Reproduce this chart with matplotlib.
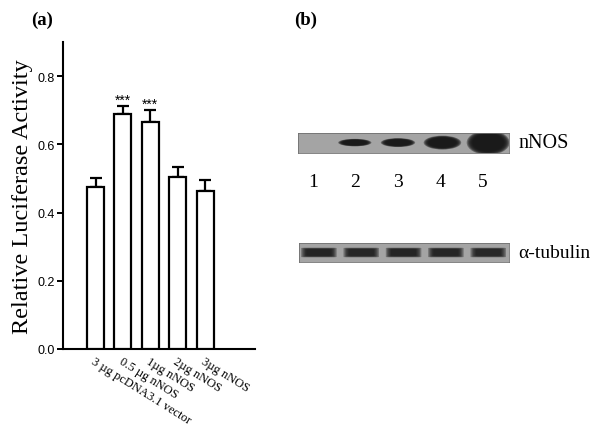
import numpy as np
import matplotlib
matplotlib.use('Agg')
import matplotlib.pyplot as plt
from matplotlib.patches import Ellipse, FancyBboxPatch

# ── Data ──────────────────────────────────────────────────────────────────────
groups    = ['3 µg pcDNA3.1 vector', '0.5 µg nNOS', '1µg nNOS',
             '2µg nNOS', '3µg nNOS']
activity  = [0.475, 0.689, 0.665, 0.505, 0.462]
sem       = [0.026, 0.024, 0.035, 0.030, 0.032]
signif    = ['', '***', '***', '', '']

lanes        = [1, 2, 3, 4, 5]
lane_labels  = ['1', '2', '3', '4', '5']
nnos_signal  = [0.0, 0.55, 0.6, 0.75, 1.0]     # relative band strength
tub_signal   = [0.85, 0.82, 0.84, 0.83, 0.80]

SERIF = ['Liberation Serif', 'DejaVu Serif']
SANS  = ['Liberation Sans', 'DejaVu Sans']

W, H = 598, 431
fig = plt.figure(figsize=(W / 100, H / 100), dpi=100)
fig.patch.set_facecolor('white')

def fbox(x0, y0, x1, y1):
    # pixel box (top-left origin) -> figure fraction rect
    return [x0 / W, 1 - y1 / H, (x1 - x0) / W, (y1 - y0) / H]

# ── Panel (a): bar chart ──────────────────────────────────────────────────────
ax = fig.add_axes(fbox(63, 43, 255, 350))
x = np.arange(len(groups))
ax.bar(x, activity, width=0.62, color='white', edgecolor='black',
       linewidth=1.6, zorder=3)
ax.errorbar(x, activity, yerr=[np.zeros(len(sem)), sem], fmt='none',
            ecolor='black', elinewidth=1.6, capsize=4, capthick=1.6, zorder=2)
for xi, yi, ei, s in zip(x, activity, sem, signif):
    if s:
        ax.text(xi, yi + ei - 0.002, s, ha='center', va='bottom',
                fontsize=10, family=SANS)

ax.set_xlim(-1.19, 5.82)
ax.set_ylim(0, 0.9)
ax.set_yticks([0.0, 0.2, 0.4, 0.6, 0.8])
ax.set_yticklabels(['0.0', '0.2', '0.4', '0.6', '0.8'], family=SANS, fontsize=9)
ax.set_xticks(x)
ax.set_xticklabels(groups, family=SERIF, fontsize=9, rotation=-32,
                   ha='left', va='top', rotation_mode='anchor')
ax.tick_params(axis='x', length=0, pad=4)
ax.tick_params(axis='y', length=4, width=1.4, pad=2)
ax.spines['top'].set_visible(False)
ax.spines['right'].set_visible(False)
ax.spines['left'].set_linewidth(1.5)
ax.spines['bottom'].set_linewidth(1.5)
ax.set_ylabel('Relative Luciferase Activity', family=SERIF, fontsize=17.5,
              labelpad=3)

fig.text(42 / W, 1 - 20 / H, '(a)', family=SERIF, fontsize=13.5,
         fontweight='bold', ha='center', va='center')
fig.text(306 / W, 1 - 20 / H, '(b)', family=SERIF, fontsize=13.5,
         fontweight='bold', ha='center', va='center')

# ── Panel (b): western blot strips ────────────────────────────────────────────
STRIP_BG = '#a4a4a4'
BAND_COL = '#161616'

def blot_axes(box):
    bx = fig.add_axes(fbox(*box))
    bx.set_xlim(0.53, 5.49)
    bx.set_ylim(0, 1)
    bx.set_facecolor(STRIP_BG)
    bx.set_xticks([])
    bx.set_yticks([])
    for sp in bx.spines.values():
        sp.set_color('#707070')
        sp.set_linewidth(0.6)
    return bx

ax_n = blot_axes((298, 134, 509, 154))
for ln, s in zip(lanes, nnos_signal):
    if s <= 0:
        continue
    w = 0.45 + 0.45 * s
    h = s ** 2 * 1.1
    for k in range(6):
        f = 1.12 - 0.06 * k
        ax_n.add_patch(Ellipse((ln - 0.3 * (1 - s), 0.52), w * f, h * f,
                               color=BAND_COL, alpha=0.42, lw=0))

ax_t = blot_axes((299, 244, 509, 263))
for ln, s in zip(lanes, tub_signal):
    for k in range(5):
        f = 1.05 - 0.08 * k
        ax_t.add_patch(FancyBboxPatch((ln - 0.38 * f, 0.5 - 0.24 * f),
                                      0.76 * f, 0.48 * f,
                                      boxstyle='round,pad=0.02,rounding_size=0.12',
                                      color=BAND_COL, alpha=0.42 * s, lw=0,
                                      mutation_aspect=1 / 4.5))

# lane numbers
ax_l = fig.add_axes(fbox(298, 170, 509, 195))
ax_l.set_xlim(0.53, 5.49)
ax_l.set_ylim(0, 1)
ax_l.axis('off')
for ln, t in zip(lanes, lane_labels):
    ax_l.text(ln - 0.12, 0.5, t, family=SERIF, fontsize=14,
              ha='center', va='center')

fig.text(518 / W, 1 - 143 / H, 'nNOS', family=SERIF, fontsize=14.5,
         ha='left', va='center')
fig.text(518 / W, 1 - 253 / H, 'α-tubulin', family=SERIF, fontsize=14,
         ha='left', va='center')

fig.savefig('out.png', dpi=100, facecolor='white')
